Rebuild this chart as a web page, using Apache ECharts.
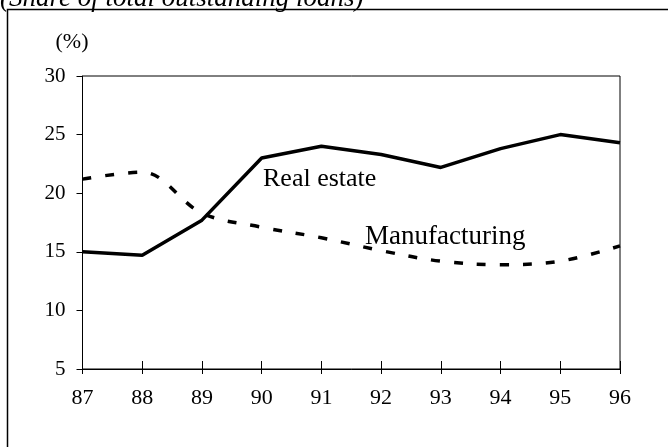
<!DOCTYPE html>
<html>
<head>
<meta charset="utf-8">
<script src="https://cdn.jsdelivr.net/npm/echarts@6/dist/echarts.min.js"></script>
<style>
  html, body { margin: 0; padding: 0; background: #fff; }
  #main { width: 668px; height: 447px; }
</style>
</head>
<body>
<div id="main"></div>
<script>
// share of total outstanding loans, %
var years = ['87', '88', '89', '90', '91', '92', '93', '94', '95', '96'];
var realEstate = [15.0, 14.7, 17.7, 23.0, 24.0, 23.3, 22.2, 23.8, 25.0, 24.3];
var manufacturing = [21.2, 21.8, 18.3, 17.1, 16.2, 15.1, 14.2, 13.9, 14.2, 15.5];
var yTicks = { min: 5, max: 30, step: 5 };

var serif = '"Liberation Serif", "DejaVu Serif", serif';

var chart = echarts.init(document.getElementById('main'), null, { renderer: 'canvas' });

var option = {
	animation: false,
	backgroundColor: '#fff',
	grid: {
		left: 82.5, right: 48, top: 76, bottom: 78,
		show: true, borderColor: '#000', borderWidth: 1
	},
	xAxis: [{
		type: 'category',
		data: years,
		boundaryGap: false,
		axisLine: { lineStyle: { color: '#000', width: 1 } },
		axisTick: { show: true, length: 5, lineStyle: { color: '#000' } },
		axisLabel: { color: '#000', fontFamily: serif, fontSize: 22, margin: 18 },
		splitLine: { show: false }
	}, {
		// ticks crossing above the axis line
		type: 'category',
		data: years,
		boundaryGap: false,
		position: 'bottom',
		axisLine: { show: false },
		axisTick: { show: true, inside: true, length: 8, lineStyle: { color: '#000' } },
		axisLabel: { show: false },
		splitLine: { show: false }
	}],
	yAxis: {
		type: 'value',
		min: yTicks.min, max: yTicks.max, interval: yTicks.step,
		axisLine: { show: true, lineStyle: { color: '#000', width: 1 } },
		axisTick: { show: true, length: 6, lineStyle: { color: '#000' } },
		axisLabel: { color: '#000', fontFamily: serif, fontSize: 21, margin: 17 },
		splitLine: { show: false }
	},
	series: [{
		name: 'Real estate',
		type: 'line',
		data: realEstate,
		symbol: 'none',
		lineStyle: { color: '#000', width: 3.5 }
	}, {
		name: 'Manufacturing',
		type: 'line',
		data: manufacturing,
		symbol: 'none',
		smooth: 0.35,
		lineStyle: { color: '#000', width: 3.5, type: [9, 14] }
	}],
	graphic: [{
		type: 'rect',
		shape: { x: 7.5, y: 9.5, width: 700, height: 500 },
		style: { fill: 'none', stroke: '#000', lineWidth: 1.5 }
	}, {
		type: 'text',
		x: 0, y: 12,
		style: {
			text: '(Share of total outstanding loans)',
			font: 'italic 27px ' + serif,
			fill: '#000',
			verticalAlign: 'bottom'
		}
	}, {
		type: 'text',
		x: 72, y: 42,
		style: {
			text: '(%)',
			font: '22px ' + serif,
			fill: '#000',
			align: 'center',
			verticalAlign: 'middle'
		}
	}, {
		type: 'text',
		x: 263, y: 192,
		style: {
			text: 'Real estate',
			font: '26px ' + serif,
			fill: '#000',
			verticalAlign: 'bottom'
		}
	}, {
		type: 'text',
		x: 365, y: 250,
		style: {
			text: 'Manufacturing',
			font: '27px ' + serif,
			fill: '#000',
			verticalAlign: 'bottom'
		}
	}]
};

chart.setOption(option);
</script>
</body>
</html>
